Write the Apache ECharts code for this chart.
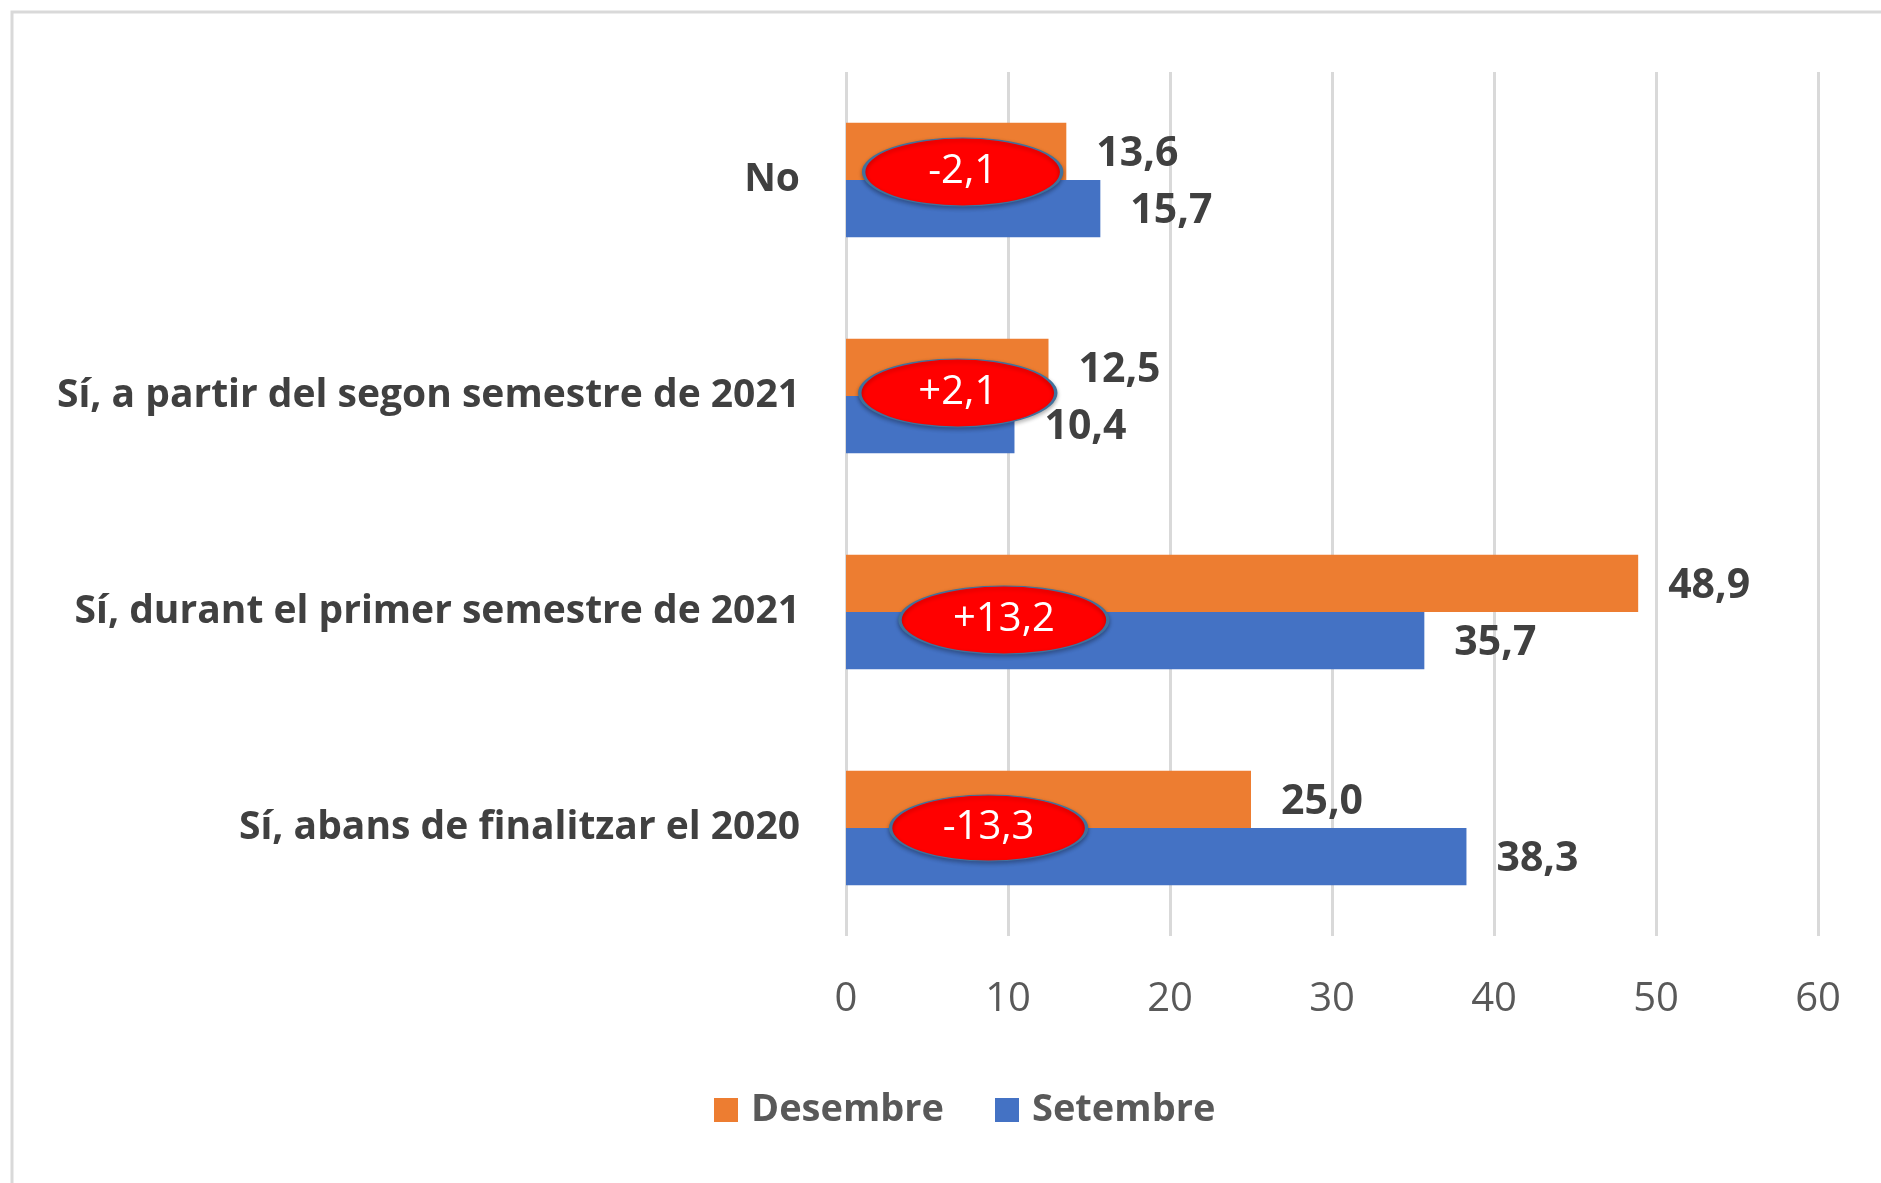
<!DOCTYPE html>
<html>
<head>
<meta charset="utf-8">
<script src="https://cdn.jsdelivr.net/npm/echarts@6/dist/echarts.min.js"></script>
<style>
  html, body { margin: 0; padding: 0; background: #fff; }
  #chart { width: 1881px; height: 1183px; }
</style>
</head>
<body>
<div id="chart"></div>
<script>
// categories bottom -> top
var categories = [
  "Sí, abans de finalitzar el 2020",
  "Sí, durant el primer semestre de 2021",
  "Sí, a partir del segon semestre de 2021",
  "No"
];
var desembre = [25.0, 48.9, 12.5, 13.6];
var setembre = [38.3, 35.7, 10.4, 15.7];
var diffLabels = ["-13,3", "+13,2", "+2,1", "-2,1"];
var diffX = [8.8, 9.75, 6.9, 7.2];
var diffSize = [[196, 66], [208, 68], [196, 68], [198, 68]];
var diffShift = [0, 8, -3, -8];

var fontFamily = "'Open Sans', 'Noto Sans', sans-serif";

function fmt(v) {
  return v.toFixed(1).replace(".", ",");
}

var myChart = echarts.init(document.getElementById("chart"));

var diffData = categories.map(function(c, i) {
  return {
    value: [diffX[i], c],
    symbolSize: diffSize[i],
    symbolOffset: [0, diffShift[i]],
    label: { formatter: diffLabels[i] }
  };
});

var valueLabel = {
  show: true,
  position: "right",
  distance: 30,
  offset: [0, 3],
  color: "#404040",
  fontFamily: fontFamily,
  fontWeight: "bold",
  fontSize: 41,
  formatter: function(p) { return fmt(p.value); }
};

var option = {
  backgroundColor: "#fff",
  animation: false,
  graphic: [
    {
      type: "rect",
      shape: { x: 12, y: 12, width: 1900, height: 1200 },
      style: { fill: "none", stroke: "#d9d9d9", lineWidth: 3 },
      silent: true
    }
  ],
  grid: { left: 846, right: 63, top: 72, bottom: 247 },
  legend: {
    data: ["Desembre", "Setembre"],
    left: 709,
    top: 1086,
    itemWidth: 24,
    itemHeight: 24,
    itemGap: 51,
    icon: "rect",
    textStyle: {
      color: "#595959",
      fontFamily: fontFamily,
      fontWeight: "bold",
      fontSize: 38,
      padding: [0, 0, 0, 8]
    }
  },
  xAxis: {
    type: "value",
    min: 0,
    max: 60,
    interval: 10,
    axisLine: { show: false },
    axisTick: { show: false },
    axisLabel: {
      color: "#595959",
      fontFamily: fontFamily,
      fontSize: 40,
      margin: 44
    },
    splitLine: { show: true, lineStyle: { color: "#d9d9d9", width: 3 } }
  },
  yAxis: {
    type: "category",
    data: categories,
    axisLine: { show: false },
    axisTick: { show: false },
    axisLabel: {
      color: "#404040",
      fontFamily: fontFamily,
      fontWeight: "bold",
      fontSize: 39,
      margin: 46
    }
  },
  series: [
    {
      name: "Desembre",
      type: "bar",
      data: desembre,
      barGap: "0%",
      barCategoryGap: "47%",
      itemStyle: { color: "#ED7D31" },
      label: valueLabel
    },
    {
      name: "Setembre",
      type: "bar",
      data: setembre,
      barGap: "0%",
      barCategoryGap: "47%",
      itemStyle: { color: "#4472C4" },
      label: valueLabel
    },
    {
      name: "diff",
      type: "scatter",
      z: 5,
      symbol: "circle",
      data: diffData,
      itemStyle: {
        color: "#ff0000",
        borderColor: "#41719c",
        borderWidth: 2,
        opacity: 1,
        shadowBlur: 4,
        shadowColor: "rgba(0,0,0,0.3)",
        shadowOffsetY: 2
      },
      label: {
        show: true,
        position: "inside",
        color: "#fff",
        fontFamily: fontFamily,
        fontSize: 40
      }
    }
  ]
};

myChart.setOption(option);
</script>
</body>
</html>
